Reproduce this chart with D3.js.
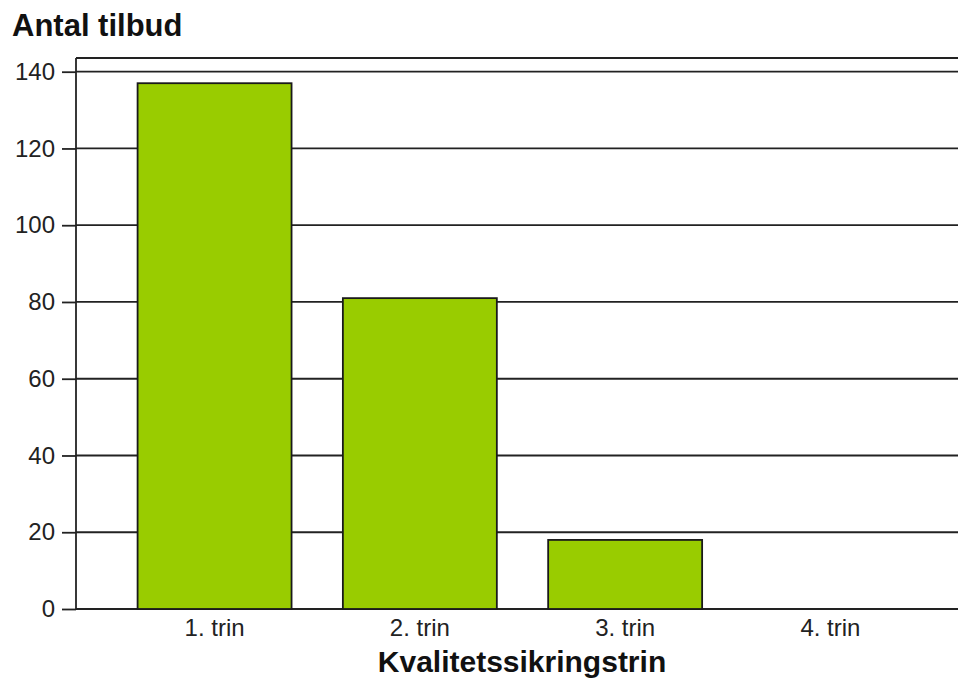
<!DOCTYPE html>
<html lang="da">
<head>
  <meta charset="UTF-8" />
  <title>Antal tilbud per kvalitetssikringstrin</title>
  <script src="https://d3js.org/d3.v7.min.js"></script>
  <style>
    body, html { margin: 0; padding: 0; background: #fff; }
    svg { display: block; font-family: "Liberation Sans", Arial, sans-serif; }
  </style>
</head>
<body>
  <svg id="chart" width="958" height="681"></svg>
  <script>
    // Chart data
    const categories = ["1. trin", "2. trin", "3. trin", "4. trin"];
    const counts = [137, 81, 18, 0];
    const yTicks = [0, 20, 40, 60, 80, 100, 120, 140];

    const svg = d3.select("#chart");

    // Plot area (right edge runs off the picture, as in the original)
    const margin = { left: 76, top: 58, bottom: 72 };
    const plotRight = 969;
    const plotBottom = 681 - margin.bottom;

    const x = d3.scaleBand()
      .domain(categories)
      .range([margin.left, plotRight])
      .paddingInner(0.25)
      .paddingOuter(0.3);

    const y = d3.scaleLinear()
      .domain([0, 140])
      .range([plotBottom, 71.7]);

    // Gridlines + ticks via the left axis
    const yAxis = svg.append("g")
      .attr("transform", `translate(${margin.left},0)`)
      .call(d3.axisLeft(y).tickValues(yTicks).tickSize(14).tickPadding(7));
    yAxis.select(".domain").remove();
    yAxis.selectAll("line").attr("stroke", "#222").attr("stroke-width", 1.8);
    yAxis.selectAll("text")
      .attr("fill", "#222")
      .style("font-size", "24px");

    svg.append("g")
      .selectAll("line")
      .data(yTicks)
      .join("line")
      .attr("x1", margin.left).attr("x2", plotRight)
      .attr("y1", d => y(d)).attr("y2", d => y(d))
      .attr("stroke", "#222").attr("stroke-width", 1.8);

    // Frame: top border and left axis line
    svg.append("line")
      .attr("x1", margin.left).attr("x2", plotRight)
      .attr("y1", margin.top).attr("y2", margin.top)
      .attr("stroke", "#222").attr("stroke-width", 1.8);
    svg.append("line")
      .attr("x1", margin.left).attr("x2", margin.left)
      .attr("y1", margin.top).attr("y2", plotBottom)
      .attr("stroke", "#222").attr("stroke-width", 1.8);

    // Bars
    svg.append("g")
      .selectAll("rect")
      .data(counts)
      .join("rect")
      .attr("x", (d, i) => x(categories[i]))
      .attr("width", x.bandwidth())
      .attr("y", d => y(d))
      .attr("height", d => y(0) - y(d))
      .attr("fill", "#99cc00")
      .attr("stroke", d => d > 0 ? "#1a1a1a" : "none")
      .attr("stroke-width", 1.8);

    // Category labels
    const xAxis = svg.append("g")
      .attr("transform", `translate(0,${plotBottom})`)
      .call(d3.axisBottom(x).tickSize(0).tickPadding(10));
    xAxis.select(".domain").remove();
    xAxis.selectAll("text")
      .attr("fill", "#222")
      .style("font-size", "24px");

    // Titles
    svg.append("text")
      .attr("x", 12).attr("y", 36)
      .attr("fill", "#111")
      .style("font-size", "31px").style("font-weight", "bold")
      .text("Antal tilbud");

    svg.append("text")
      .attr("x", (margin.left + 958) / 2 + 5).attr("y", 672)
      .attr("text-anchor", "middle")
      .attr("fill", "#111")
      .style("font-size", "30px").style("font-weight", "bold")
      .text("Kvalitetssikringstrin");
  </script>
</body>
</html>
